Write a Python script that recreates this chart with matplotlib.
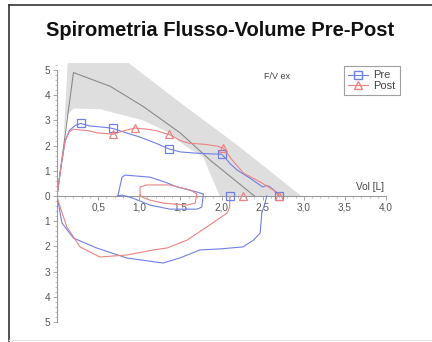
import matplotlib
matplotlib.use("Agg")
import matplotlib.pyplot as plt
from matplotlib.ticker import MultipleLocator, FuncFormatter, FixedLocator
from matplotlib.lines import Line2D

plt.rcParams['font.family'] = ['Liberation Sans', 'DejaVu Sans']

title = "Spirometria Flusso-Volume Pre-Post"

# predicted band (grey area)
band_upper_x = [0.13, 0.87, 1.5, 2.2, 2.97]
band_upper_y = [5.28, 5.28, 3.7, 2.0, 0.0]
band_lower_x = [0.13, 0.08, 0.12, 0.2, 0.52, 1.05, 1.34, 1.58, 1.78, 1.86, 1.98, 2.97]
band_lower_y = [5.28, 2.3, 3.2, 3.47, 3.45, 3.0, 2.54, 1.94, 1.55, 0.9, 0.0, 0.0]

# predicted curve
pred_x = [0.0, 0.2, 0.65, 1.05, 1.5, 1.86, 2.4]
pred_y = [0.0, 4.9, 4.35, 3.55, 2.5, 1.43, 0.0]

# Pre expiratory
pre_ex_x = [0.0, 0.05, 0.1, 0.15, 0.22, 0.29, 0.4, 0.5, 0.6, 0.68, 0.8, 1.0, 1.2, 1.36, 1.5, 1.7, 1.9, 2.0, 2.05, 2.1, 2.19, 2.35, 2.5, 2.55, 2.59, 2.68, 2.7]
pre_ex_y = [0.0, 1.2, 2.2, 2.6, 2.8, 2.88, 2.78, 2.75, 2.72, 2.68, 2.55, 2.35, 2.1, 1.87, 1.75, 1.7, 1.67, 1.66, 1.5, 1.3, 1.03, 0.7, 0.36, 0.42, 0.36, 0.12, 0.0]
pre_mark_x = [0.29, 0.68, 1.36, 2.0, 2.1, 2.7]
pre_mark_y = [2.9, 2.7, 1.87, 1.66, 0.0, 0.0]

# Post expiratory
post_ex_x = [0.0, 0.05, 0.1, 0.15, 0.2, 0.3, 0.4, 0.5, 0.6, 0.68, 0.8, 0.95, 1.1, 1.2, 1.3, 1.36, 1.5, 1.6, 1.8, 1.95, 2.02, 2.13, 2.27, 2.4, 2.5, 2.63, 2.7]
post_ex_y = [0.0, 1.2, 2.2, 2.55, 2.65, 2.62, 2.58, 2.5, 2.48, 2.45, 2.58, 2.7, 2.65, 2.6, 2.5, 2.45, 2.2, 2.1, 2.05, 1.98, 1.9, 1.43, 0.9, 0.68, 0.5, 0.24, 0.0]
post_mark_x = [0.68, 0.95, 1.36, 2.02, 2.26, 2.7]
post_mark_y = [2.45, 2.7, 2.45, 1.9, 0.0, 0.0]

# Pre inspiratory
pre_in_x = [0.0, 0.01, 0.06, 0.2, 0.48, 0.85, 1.29, 1.5, 1.74, 1.98, 2.26, 2.39, 2.47, 2.49, 2.53, 2.55]
pre_in_y = [0.0, -0.16, -1.07, -1.67, -2.06, -2.46, -2.66, -2.45, -2.14, -2.1, -2.02, -1.75, -1.47, -0.67, -0.28, 0.0]

# Post inspiratory
post_in_x = [0.0, 0.01, 0.12, 0.28, 0.52, 0.85, 1.17, 1.34, 1.58, 1.82, 1.98, 2.07, 2.1, 2.1]
post_in_y = [0.0, -0.16, -1.23, -2.02, -2.42, -2.34, -2.14, -2.06, -1.75, -1.23, -0.87, -0.67, -0.43, 0.0]

# tidal loops
pre_loop_x = [0.74, 0.79, 0.83, 1.13, 1.34, 1.46, 1.7, 1.78, 1.76, 1.7, 1.37, 1.13, 0.92, 0.79, 0.74]
pre_loop_y = [0.0, 0.75, 0.83, 0.75, 0.52, 0.36, 0.16, 0.08, -0.44, -0.52, -0.52, -0.36, -0.08, 0.04, 0.0]
post_loop_x = [1.01, 1.01, 1.09, 1.37, 1.62, 1.7, 1.68, 1.58, 1.29, 1.13, 1.03, 1.01]
post_loop_y = [0.04, 0.36, 0.44, 0.44, 0.24, 0.08, -0.28, -0.36, -0.28, -0.16, -0.04, 0.04]

x_ticks = [0.5, 1.0, 1.5, 2.0, 2.5, 3.0, 3.5, 4.0]
y_ticks = [-5, -4, -3, -2, -1, 0, 1, 2, 3, 4, 5]

blue = '#6f7fe6'
red = '#ec8383'

fig = plt.figure(figsize=(4.32, 3.42), dpi=100)
fig.patch.set_facecolor('white')
ax = fig.add_axes([57/432, 1-322/342, 329/432, (322-63)/342])
ax.set_xlim(0, 4.0)
ax.set_ylim(-5.0, 5.28)

poly_x = band_upper_x + band_lower_x[::-1]
poly_y = band_upper_y + band_lower_y[::-1]
ax.fill(poly_x, poly_y, color='#dedede', lw=0, zorder=1)
ax.plot(pred_x, pred_y, color='#8a8a8a', lw=0.8, zorder=2)

lw = 0.8
ax.plot(pre_ex_x, pre_ex_y, color=blue, lw=lw, zorder=3)
ax.plot(post_ex_x, post_ex_y, color=red, lw=lw, zorder=3)
ax.plot(pre_in_x, pre_in_y, color=blue, lw=lw, zorder=3)
ax.plot(post_in_x, post_in_y, color=red, lw=lw, zorder=3)
ax.plot(pre_loop_x, pre_loop_y, color=blue, lw=lw, zorder=3)
ax.plot(post_loop_x, post_loop_y, color=red, lw=lw, zorder=3)
ax.plot(pre_mark_x, pre_mark_y, ls='none', marker='s', ms=5.5, mfc='none', mec=blue, mew=0.9, zorder=4, clip_on=False)
ax.plot(post_mark_x, post_mark_y, ls='none', marker='^', ms=5.5, mfc='none', mec=red, mew=0.9, zorder=4, clip_on=False)

for s in ['top', 'right']:
    ax.spines[s].set_visible(False)
ax.spines['left'].set_position(('data', 0))
ax.spines['bottom'].set_position(('data', 0))
ax.spines['left'].set_bounds(-5, 5)
ax.spines['bottom'].set_bounds(0, 4)
for s in ['left', 'bottom']:
    ax.spines[s].set_color('#9a9a9a')
    ax.spines[s].set_linewidth(0.8)
    ax.spines[s].set_zorder(2.5)

ax.xaxis.set_major_locator(FixedLocator(x_ticks))
ax.xaxis.set_minor_locator(MultipleLocator(0.1))
ax.yaxis.set_major_locator(FixedLocator(y_ticks))
ax.yaxis.set_minor_locator(MultipleLocator(0.2))
ax.xaxis.set_major_formatter(FuncFormatter(lambda v, p: f"{v:.1f}".replace('.', ',')))
ax.yaxis.set_major_formatter(FuncFormatter(lambda v, p: f"{abs(int(round(v)))}"))
ax.tick_params(axis='both', which='major', length=3, width=0.6, color='#9a9a9a', labelsize=7.2, labelcolor='#555555', direction='out')
ax.tick_params(axis='both', which='minor', length=1.5, width=0.5, color='#aaaaaa', direction='out')
ax.tick_params(axis='x', pad=2)
ax.tick_params(axis='y', pad=2)

ax.text(3.97, 0.15, "Vol [L]", ha='right', va='bottom', fontsize=7.2, color='#444444')
ax.text(2.68, 4.75, "F/V ex", ha='center', va='center', fontsize=6.5, color='#444444')

handles = [Line2D([], [], color=blue, lw=lw, marker='s', ms=5.5, mfc='none', mec=blue),
           Line2D([], [], color=red, lw=lw, marker='^', ms=5.5, mfc='none', mec=red)]
leg = ax.legend(handles, ['Pre', 'Post'], loc='upper left', bbox_to_anchor=(344/432, 1-66/342),
                bbox_transform=fig.transFigure, frameon=True, fancybox=False, fontsize=8,
                handlelength=1.8, handletextpad=0.4, borderpad=0.4, labelspacing=0.05,
                borderaxespad=0)
leg.get_frame().set_edgecolor('#888888')
leg.get_frame().set_linewidth(0.8)
for t in leg.get_texts():
    t.set_color('#444444')

fig.text(220/432, 1-31/342, title, ha='center', va='center', fontsize=14.5, fontweight='bold', color='#111111')

# frame around figure
fig.add_artist(Line2D([9/432, 9/432], [0, 1-5/342], transform=fig.transFigure, color='#333333', lw=1.2))
fig.add_artist(Line2D([9/432, 1], [1-5/342, 1-5/342], transform=fig.transFigure, color='#333333', lw=1.2))
fig.add_artist(Line2D([9/432, 1], [2/342, 2/342], transform=fig.transFigure, color='#e6e6e6', lw=1.0))

fig.savefig('out.png', dpi=100)
